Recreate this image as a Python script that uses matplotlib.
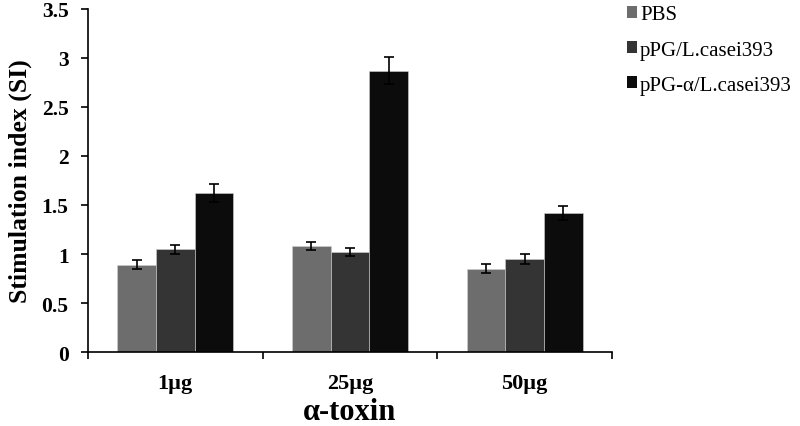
import numpy as np
import matplotlib.pyplot as plt
from matplotlib.patches import Patch

plt.rcParams['font.family'] = ['Liberation Serif', 'DejaVu Serif']

doses = ['1\u00b5g', '25\u00b5g', '50\u00b5g']
groups = ['PBS', 'pPG/L.casei393', 'pPG-\u03b1/L.casei393']
pbs = [0.89, 1.08, 0.85]
ppg = [1.05, 1.02, 0.95]
ppg_a = [1.62, 2.87, 1.42]
pbs_err = [0.045, 0.04, 0.045]
ppg_err = [0.045, 0.04, 0.05]
ppg_a_err = [0.09, 0.135, 0.07]
colors = ['#6d6d6d', '#343434', '#0c0c0c']

fig = plt.figure(figsize=(8, 4.27), dpi=100)
ax = fig.add_axes([0.11, 0.173, 0.655, 0.804])

x = np.arange(len(doses))
w = 0.222
series = [(pbs, pbs_err), (ppg, ppg_err), (ppg_a, ppg_a_err)]
for i, (vals, errs) in enumerate(series):
    ax.bar(x + (i - 1) * w, vals, w, yerr=errs, color=colors[i],
           edgecolor='#d0d0d0', linewidth=0.4, capsize=3.5,
           error_kw=dict(elinewidth=1.2, capthick=1.2, ecolor='black'))

ax.set_xlim(-0.5, 2.5)
ax.set_ylim(0, 3.5)
ax.set_yticks(np.arange(0, 3.51, 0.5))
ax.set_yticklabels(['0', '0.5', '1', '1.5', '2', '2.5', '3', '3.5'],
                   fontsize=15.5, fontweight='bold')
ax.set_xticks([-0.5, 0.5, 1.5, 2.5])
ax.set_xticklabels([])
ax.set_xticks(x, minor=True)
ax.set_xticklabels(doses, minor=True, fontsize=16, fontweight='bold')
ax.tick_params(axis='x', which='minor', length=0, pad=15)
ax.tick_params(axis='x', which='major', length=5, width=1.2)
ax.tick_params(axis='y', length=5, width=1.2, pad=9)

for s in ['top', 'right']:
    ax.spines[s].set_visible(False)
for s in ['left', 'bottom']:
    ax.spines[s].set_linewidth(1.2)

ax.set_ylabel('Stimulation index (SI)', fontsize=18.5, fontweight='bold', labelpad=7)
ax.set_xlabel('\u03b1-toxin', fontsize=22, fontweight='bold', labelpad=3)

handles = [Patch(facecolor=c, edgecolor='none') for c in colors]
fig.legend(handles, groups, loc='upper left', bbox_to_anchor=(0.778, 0.995),
           frameon=False, fontsize=15, handlelength=0.5, handleheight=0.5,
           handletextpad=0.15, labelspacing=0.78, borderpad=0.2, borderaxespad=0)

fig.savefig('out.png', dpi=100)
